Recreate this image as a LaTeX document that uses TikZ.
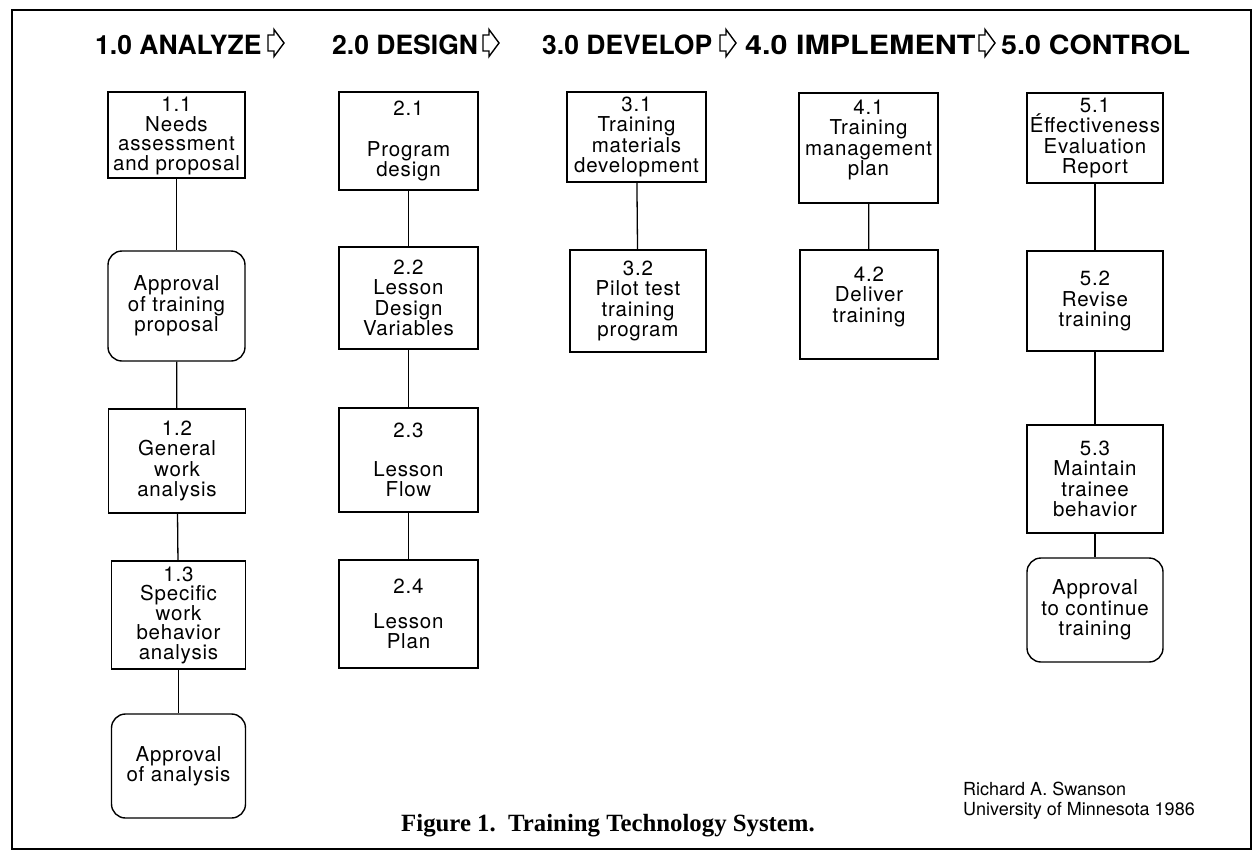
\documentclass[tikz,border=0pt]{standalone}
\usepackage{fontspec}
\setmainfont{TeX Gyre Heros}
\newfontfamily\boxfont[LetterSpace=4]{TeX Gyre Heros}
\newfontfamily\capfont{Liberation Serif}
\begin{document}
\begin{tikzpicture}[x=1pt,y=-1pt,
  boxtext/.style={align=center, inner sep=0pt, font=\boxfont\fontsize{20.5}{20.5}\selectfont},
  box/.style={boxtext, draw, line width=1.4pt},
  rbox/.style={box, rounded corners=14pt},
  link/.style={line width=1.3pt},
  hdr/.style={font=\fontsize{26.5}{30}\selectfont\bfseries, anchor=base west, inner sep=0pt},
  harrow/.style={line width=1.4pt, line join=miter},
]
\useasboundingbox (0,0) rectangle (1255,852);
\draw[line width=2pt] (12,10) rectangle (1251,849);

% headers
\node[hdr] (h1) at (95,54) {1.0 ANALYZE};
\node[hdr] (h2) at (332,54) {2.0 DESIGN};
\node[hdr] (h3) at (542,54) {3.0 DEVELOP};
\node[hdr] (h4) at (745,54) {\scalebox{1.15}[1]{4.0 IMPLEMENT}};
\node[hdr] (h5) at (1001,54) {\scalebox{1.08}[1]{5.0 CONTROL}};
\foreach \ax in {268,483,720,979}{
  \draw[harrow, shift={(\ax,43)}] (0,-8) -- (6,-8) -- (6,-13.5) -- (16,0) -- (6,13.5) -- (6,8) -- (0,8) -- cycle;
}

% column 1
\node[box, minimum width=137pt, minimum height=86pt] (n11) at (176.5,135) {};
\node[boxtext, font=\boxfont\fontsize{20.5}{19.5}\selectfont] (t11) at (176.5,136) {1.1\\Needs\\assessment\\and proposal};
\node[rbox, minimum width=137pt, minimum height=110pt] (a1) at (176.5,306) {Approval\\of training\\proposal};
\node[box, minimum width=137pt, minimum height=104pt] (n12) at (177,461) {1.2\\General\\work\\analysis};
\node[box, minimum width=134pt, minimum height=108pt, font=\boxfont\fontsize{20.5}{19.5}\selectfont] (n13) at (178.5,615) {1.3\\Specific\\work\\behavior\\analysis};
\node[rbox, minimum width=134pt, minimum height=104pt] (a2) at (178.5,766) {Approval\\of analysis};

% column 2
\node[box, minimum width=139pt, minimum height=98pt] (n21) at (408.5,141) {2.1\\[20pt]Program\\design};
\node[box, minimum width=139pt, minimum height=102pt] (n22) at (408.5,298) {2.2\\Lesson\\Design\\Variables};
\node[box, minimum width=139pt, minimum height=104pt] (n23) at (408.5,460) {2.3\\[18pt]Lesson\\Flow};
\node[box, minimum width=139pt, minimum height=108pt] (n24) at (408.5,614) {2.4\\[14pt]Lesson\\Plan};

% column 3
\node[box, minimum width=139pt, minimum height=90pt] (n31) at (636.5,137) {3.1\\Training\\materials\\development};
\node[box, minimum width=136pt, minimum height=102pt] (n32) at (638,301) {3.2\\Pilot test\\training\\program};

% column 4
\node[box, minimum width=139pt, minimum height=110pt] (n41) at (868.5,148) {4.1\\Training\\management\\plan\\\mbox{}};
\node[box, minimum width=138pt, minimum height=109pt] (n42) at (869,304.5) {4.2\\Deliver\\training\\\mbox{}};

% column 5
\node[box, minimum width=136pt, minimum height=90pt] (n51) at (1095,138) {5.1\\Éffectiveness\\Evaluation\\Report};
\node[box, minimum width=136pt, minimum height=100pt] (n52) at (1095,301) {5.2\\Revise\\training};
\node[box, minimum width=136pt, minimum height=108pt] (n53) at (1095,479) {5.3\\Maintain\\trainee\\behavior};
\node[rbox, minimum width=136pt, minimum height=104pt] (a3) at (1095,610) {Approval\\to continue\\training};

% connectors
\draw[link] (n11) -- (a1);
\draw[link] (a1) -- (n12);
\draw[link] (n12) -- (n13);
\draw[link] (n13) -- (a2);
\draw[link] (n21) -- (n22);
\draw[link] (n22) -- (n23);
\draw[link] (n23) -- (n24);
\draw[link] (n31) -- (n32);
\draw[link] (n41) -- (n42);
\draw[link] (n51) -- (n52);
\draw[link] (n52) -- (n53);
\draw[link] (n53) -- (a3);

% caption and credit
\node[font=\capfont\bfseries\fontsize{24.8}{26}\selectfont, anchor=base west, inner sep=0pt] (cap) at (401,831) {Figure 1.\ \ Training Technology System.};
\node[anchor=north west, align=left, inner sep=0pt, font=\fontsize{18}{20}\selectfont] (credit) at (963,782) {Richard A. Swanson\\University of Minnesota 1986};
\end{tikzpicture}
\end{document}
